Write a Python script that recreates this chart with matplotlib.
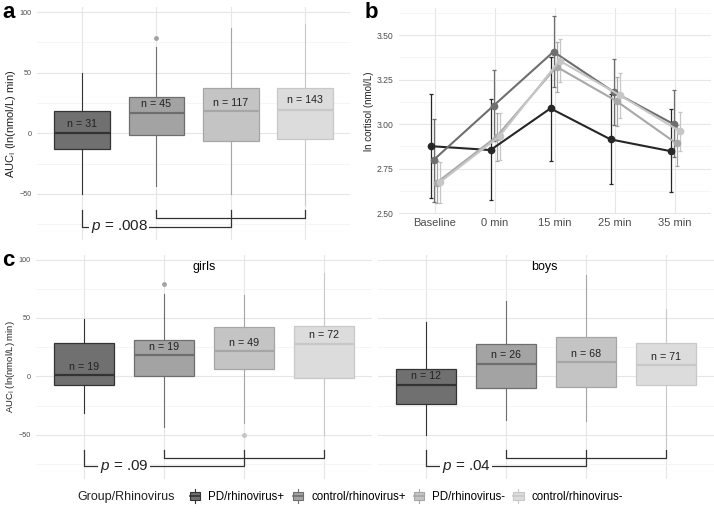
import matplotlib
matplotlib.use("Agg")
import matplotlib.pyplot as plt
import numpy as np
from matplotlib.legend_handler import HandlerBase
from matplotlib.patches import Rectangle, Patch
from matplotlib.lines import Line2D

plt.rcParams["font.family"] = ["Liberation Sans", "DejaVu Sans"]
plt.rcParams["mathtext.fontset"] = "custom"
plt.rcParams["mathtext.rm"] = "Liberation Sans"
plt.rcParams["mathtext.it"] = "Liberation Sans:italic"

# ---- data ----
groups = ["PD/rhinovirus+", "control/rhinovirus+", "PD/rhinovirus-", "control/rhinovirus-"]

# panel a: all children
a_q1 = [-13, -1.5, -6, -5]
a_med = [0, 17, 18, 19.5]
a_q3 = [18, 30, 37, 37]
a_lo = [-50, -43.5, -50, -59.5]
a_hi = [49.5, 71.5, 87, 90]
a_out = [[], [79], [], []]
a_n = [31, 45, 117, 143]
a_ny = [8, 24, 25, 27.5]
a_p = ".008"

# panel c: girls
g_q1 = [-7.5, 0.5, 6, -1]
g_med = [1, 18, 21.5, 27.5]
g_q3 = [29, 31, 42, 43]
g_lo = [-31, -43.5, -40, -50]
g_hi = [49, 71, 70, 89]
g_out = [[], [79], [-50], []]
g_n = [19, 19, 49, 72]
g_ny = [8, 25.5, 29, 35.5]
g_p = ".09"

# panel c: boys
m_q1 = [-23.5, -10, -9.5, -7]
m_med = [-7.5, 11, 12, 9.5]
m_q3 = [6, 28, 34, 29]
m_lo = [-50, -37, -38.5, -61]
m_hi = [46.5, 65, 87, 58]
m_out = [[], [], [], []]
m_n = [12, 26, 68, 71]
m_ny = [0, 18.5, 19.5, 17]
m_p = ".04"

# panel b: ln cortisol over time, mean with interval
timepoints = ["Baseline", "0 min", "15 min", "25 min", "35 min"]
b_mean = [[2.876, 2.854, 3.088, 2.914, 2.848],
          [2.798, 3.103, 3.406, 3.181, 3.000],
          [2.670, 2.929, 3.322, 3.129, 2.891],
          [2.672, 2.932, 3.356, 3.163, 2.961]]
b_lo = [[2.586, 2.571, 2.794, 2.663, 2.616],
        [2.563, 2.905, 3.210, 2.993, 2.816],
        [2.558, 2.790, 3.180, 2.989, 2.764],
        [2.555, 2.800, 3.238, 3.032, 2.848]]
b_hi = [[3.169, 3.139, 3.378, 3.169, 3.083],
        [3.028, 3.303, 3.607, 3.367, 3.191],
        [2.790, 3.060, 3.462, 3.266, 2.994],
        [2.785, 3.062, 3.477, 3.285, 3.069]]

fills = ["#707070", "#a3a3a3", "#c4c4c4", "#dcdcdc"]
edges = ["#333333", "#6e6e6e", "#a6a6a6", "#c8c8c8"]
lines = ["#262626", "#6e6e6e", "#a8a8a8", "#c6c6c6"]
tick_col = "#4d4d4d"

W, H = 714, 520
fig = plt.figure(figsize=(W / 100, H / 100), dpi=100)


def px_axes(l, t, r, b):
    return fig.add_axes([l / W, 1 - b / H, (r - l) / W, (b - t) / H])


def style(ax, size=5.2):
    for s in ax.spines.values():
        s.set_visible(False)
    ax.tick_params(which="both", length=0, labelsize=size, labelcolor=tick_col, pad=4)
    ax.grid(which="major", color="#e6e6e6", lw=0.8)
    ax.grid(which="minor", axis="y", color="#f2f2f2", lw=0.5)
    ax.set_axisbelow(True)


def boxes(ax, q1, med, q3, lo, hi, out, n, ny, p):
    for i in range(4):
        st = dict(q1=q1[i], med=med[i], q3=q3[i], whislo=lo[i], whishi=hi[i], fliers=out[i])
        ax.bxp([st], positions=[i], widths=0.75, patch_artist=True, showcaps=False,
               boxprops=dict(facecolor=fills[i], edgecolor=edges[i], lw=0.9),
               medianprops=dict(color=edges[i], lw=1.6),
               whiskerprops=dict(color=edges[i], lw=0.8),
               flierprops=dict(marker="o", markerfacecolor=fills[i], markeredgecolor="none", markersize=3.5))
        ax.text(i, ny[i], f"n = {n[i]}", ha="center", va="center", fontsize=7.7, color="#222222")
    ax.plot([0, 0, 2, 2], [-63, -77, -77, -63], color="#333333", lw=0.9)
    ax.plot([1, 1, 3, 3], [-63, -70, -70, -63], color="#333333", lw=0.9)
    ax.text(0.5, -77, f"$p$ = {p}", ha="center", va="center", fontsize=11, color="#222222",
            bbox=dict(fc="white", ec="none", pad=1))
    ax.set_xlim(-0.6, 3.6)
    ax.set_ylim(-88, 104)
    ax.set_xticks(range(4))
    ax.set_xticklabels([])
    ax.set_yticks([-50, 0, 50, 100])
    ax.set_yticks([-75, -25, 25, 75], minor=True)
    style(ax)


ylab = "AUC$_\\mathregular{I}$ (ln(nmol/L) min)"

# panel a
ax_a = px_axes(37.4, 7.2, 350, 240)
boxes(ax_a, a_q1, a_med, a_q3, a_lo, a_hi, a_out, a_n, a_ny, a_p)
ax_a.set_ylabel(ylab, fontsize=8, color="#222222")
ax_a.yaxis.set_label_coords(-0.062, 0.5)

# panel b
ax_b = px_axes(399, 8.3, 711, 214)
x = np.arange(len(timepoints))
offsets = [-0.075, -0.025, 0.025, 0.075]
for i in range(4):
    mu = np.array(b_mean[i])
    err = [mu - np.array(b_lo[i]), np.array(b_hi[i]) - mu]
    ax_b.errorbar(x + offsets[i], mu, yerr=err, color=lines[i], lw=1.5, marker="o", ms=4.5,
                  elinewidth=0.9, capsize=1.5, capthick=0.9)
ax_b.set_xlim(-0.6, 4.6)
ax_b.set_ylim(2.495, 3.65)
ax_b.set_xticks(x)
ax_b.set_xticklabels(timepoints)
ax_b.set_yticks([2.5, 2.75, 3.0, 3.25, 3.5])
ax_b.set_yticklabels(["2.50", "2.75", "3.00", "3.25", "3.50"])
ax_b.set_yticks([2.625, 2.875, 3.125, 3.375, 3.625], minor=True)
style(ax_b, size=6.2)
ax_b.tick_params(axis="x", labelsize=8, pad=3)
ax_b.set_ylabel("ln cortisol (nmol/L)", fontsize=7, color="#222222")
ax_b.yaxis.set_label_coords(-0.08, 0.5)

# panel c
ax_g = px_axes(36, 255, 372, 479)
boxes(ax_g, g_q1, g_med, g_q3, g_lo, g_hi, g_out, g_n, g_ny, g_p)
ax_g.set_ylabel(ylab, fontsize=6.8, color="#222222")
ax_g.yaxis.set_label_coords(-0.058, 0.5)
ax_g.text(204 / W, 1 - 267 / H, "girls", transform=fig.transFigure, ha="center", va="center", fontsize=9)

ax_m = px_axes(378, 255, 714, 479)
boxes(ax_m, m_q1, m_med, m_q3, m_lo, m_hi, m_out, m_n, m_ny, m_p)
ax_m.set_yticklabels([])
ax_m.text(544 / W, 1 - 267 / H, "boys", transform=fig.transFigure, ha="center", va="center", fontsize=9)

# panel letters
fig.text(2 / W, 1 - 12 / H, "a", fontsize=16, fontweight="bold", va="center")
fig.text(365 / W, 1 - 12 / H, "b", fontsize=16, fontweight="bold", va="center")
fig.text(2 / W, 1 - 261 / H, "c", fontsize=16, fontweight="bold", va="center")


# legend with small box glyphs
class BoxKey(HandlerBase):
    def create_artists(self, legend, orig, xd, yd, width, height, fontsize, trans):
        fc, ec = orig.get_facecolor(), orig.get_edgecolor()
        x0, y0 = -xd, -yd
        cx = x0 + width / 2
        w1 = Line2D([cx, cx], [y0 - 0.25 * height, y0 + 0.1 * height], color=ec, lw=0.8, transform=trans)
        w2 = Line2D([cx, cx], [y0 + 0.9 * height, y0 + 1.25 * height], color=ec, lw=0.8, transform=trans)
        rect = Rectangle((x0, y0 + 0.1 * height), width, 0.8 * height, fc=fc, ec=ec, lw=0.8, transform=trans)
        med = Line2D([x0, x0 + width], [y0 + 0.5 * height] * 2, color=ec, lw=1.2, transform=trans)
        return [w1, w2, rect, med]


handles = [Patch(facecolor=fills[i], edgecolor=edges[i]) for i in range(4)]
fig.text(77 / W, 1 - 497 / H, "Group/Rhinovirus", fontsize=9, va="center", color="#222222")
fig.legend(handles, groups, handler_map={Patch: BoxKey()}, loc="center left",
           bbox_to_anchor=(190 / W, 1 - 497 / H), ncol=4, frameon=False, fontsize=8.3,
           handlelength=0.9, handleheight=0.8, handletextpad=0.7, columnspacing=0.7,
           borderpad=0, borderaxespad=0)

fig.savefig("out.png", dpi=100)
